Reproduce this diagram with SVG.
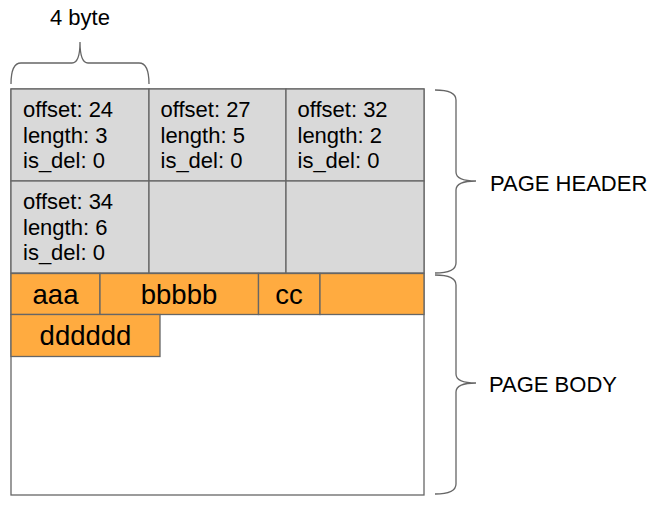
<svg xmlns="http://www.w3.org/2000/svg" width="658" height="509" viewBox="0 0 658 509">
<style>
text{font-family:"Liberation Sans",Arial,sans-serif;fill:#000}
.t{font-size:22px}
.b{font-size:27.5px;text-anchor:middle}
.h{fill:#d9d9d9;stroke:#666;stroke-width:1.3}
.o{fill:#ffab40;stroke:#666;stroke-width:1.3}
.br{fill:none;stroke:#666;stroke-width:1.3}
</style>
<rect x="0" y="0" width="658" height="509" fill="#fff"/>
<g id="page">
<rect x="11" y="89" width="413" height="406" fill="#fff" stroke="#666" stroke-width="1.3"/>
</g>
<g id="h1"><rect class="h" x="11" y="89" width="138" height="92"/>
<text class="t" x="23" y="117">offset: 24</text><text class="t" x="23" y="143">length: 3</text><text class="t" x="23" y="168">is_del: 0</text></g>
<g id="h2"><rect class="h" x="149" y="89" width="137" height="92"/>
<text class="t" x="160.5" y="117">offset: 27</text><text class="t" x="160.5" y="143">length: 5</text><text class="t" x="160.5" y="168">is_del: 0</text></g>
<g id="h3"><rect class="h" x="286" y="89" width="138" height="92"/>
<text class="t" x="297.5" y="117">offset: 32</text><text class="t" x="297.5" y="143">length: 2</text><text class="t" x="297.5" y="168">is_del: 0</text></g>
<g id="h4"><rect class="h" x="11" y="181" width="138" height="92"/>
<text class="t" x="23" y="209">offset: 34</text><text class="t" x="23" y="235">length: 6</text><text class="t" x="23" y="260">is_del: 0</text></g>
<g id="h5"><rect class="h" x="149" y="181" width="137" height="92"/></g>
<g id="h6"><rect class="h" x="286" y="181" width="138" height="92"/></g>
<g id="b1"><rect class="o" x="11" y="273.5" width="89" height="41"/><text class="b" x="55.5" y="303.5">aaa</text></g>
<g id="b2"><rect class="o" x="100" y="273.5" width="158.5" height="41"/><text class="b" x="179" y="303.5">bbbbb</text></g>
<g id="b3"><rect class="o" x="258.5" y="273.5" width="61.5" height="41"/><text class="b" x="289" y="303.5">cc</text></g>
<g id="b4"><rect class="o" x="320" y="273.5" width="104" height="41"/></g>
<g id="b5"><rect class="o" x="11" y="314.5" width="149" height="42"/><text class="b" x="85.5" y="345">dddddd</text></g>
<g id="braces">
<path class="br" d="M11,84 Q11,63 21,63 L72,63 Q80,63 80,42 Q80,63 88,63 L139,63 Q149,63 149,84"/>
<path class="br" d="M435,90 Q456,90 456,100 L456,172 Q456,181 476,181 Q456,181 456,190 L456,263 Q456,273 435,273"/>
<path class="br" d="M435,275 Q456,275 456,285 L456,374 Q456,383 476,383 Q456,383 456,392 L456,484 Q456,494 435,494"/>
</g>
<g id="labels">
<text class="t" x="50" y="25">4 byte</text>
<text class="t" x="490" y="191">PAGE HEADER</text>
<text class="t" x="489" y="392">PAGE BODY</text>
</g>
</svg>
